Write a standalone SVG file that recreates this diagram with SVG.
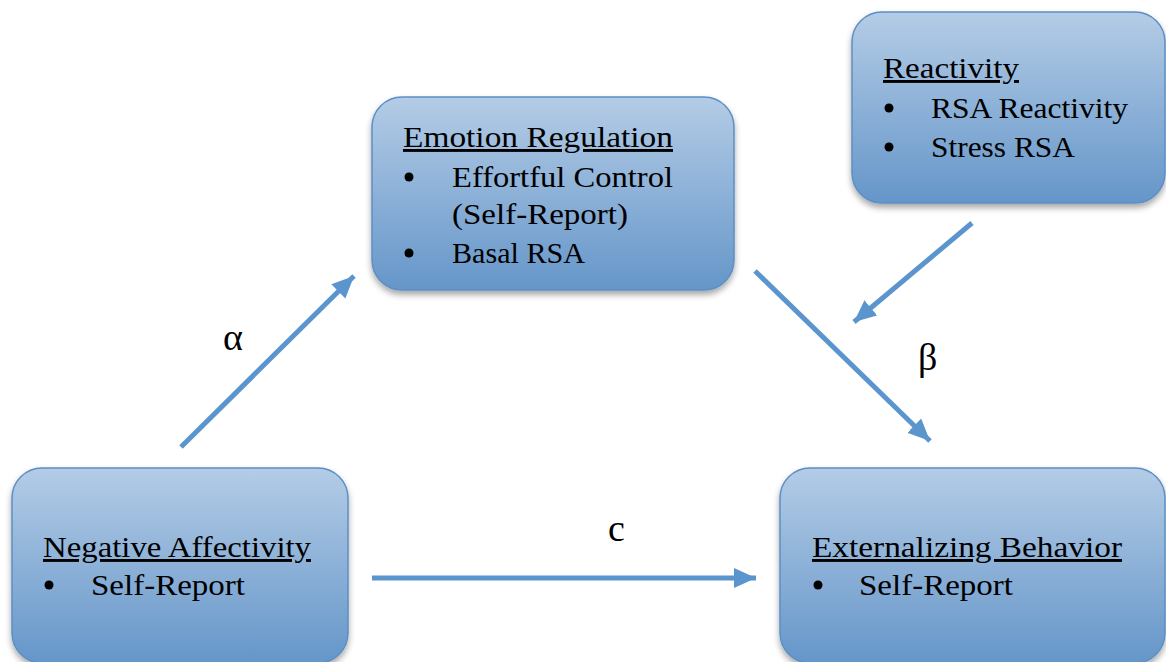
<svg xmlns="http://www.w3.org/2000/svg" width="1166" height="662" viewBox="0 0 1166 662">
<style>
.box{fill:url(#g);stroke:#5b8fc6;stroke-width:1.5;filter:url(#sh)}
.t{font-family:"Liberation Serif","Times New Roman",serif;font-size:29px;fill:#000}
.u{text-decoration:underline}
.b{fill:#000}
.gk{font-family:"Liberation Serif","Times New Roman",serif;font-size:38px;fill:#000}
.c{stroke:#5b95cd;stroke-width:5;fill:none;marker-end:url(#ah)}
</style>
<defs>
<linearGradient id="g" x1="0" y1="0" x2="0" y2="1">
<stop offset="0" stop-color="#b4cce6"/>
<stop offset="1" stop-color="#6596c9"/>
</linearGradient>
<filter id="sh" x="-10%" y="-10%" width="120%" height="130%">
<feDropShadow dx="0" dy="4" stdDeviation="3" flood-color="#000" flood-opacity="0.35"/>
</filter>
<marker id="ah" markerUnits="userSpaceOnUse" markerWidth="24" markerHeight="22" refX="22" refY="10" orient="auto">
<path d="M0,0 L22,10 L0,20 Z" fill="#5b95cd"/>
</marker>
</defs>
<g id="connectors">
<line class="c" x1="181" y1="447" x2="354" y2="276"/>
<line class="c" x1="755" y1="271" x2="930" y2="441"/>
<line class="c" x1="972" y1="223" x2="854" y2="322"/>
<line class="c" x1="372" y1="578" x2="756" y2="578"/>
<text class="gk" x="223" y="350">α</text>
<text class="gk" x="918" y="370">β</text>
<text class="gk" x="608" y="541">c</text>
</g>
<g id="emotion-regulation">
<rect class="box" x="372" y="97" width="362" height="193" rx="30"/>
<text class="t u" x="403" y="147" textLength="270" lengthAdjust="spacingAndGlyphs">Emotion Regulation</text>
<circle class="b" cx="409" cy="177" r="4.5"/>
<text class="t" x="452" y="187" textLength="221" lengthAdjust="spacingAndGlyphs">Effortful Control</text>
<text class="t" x="452" y="224" textLength="176" lengthAdjust="spacingAndGlyphs">(Self-Report)</text>
<circle class="b" cx="409" cy="253" r="4.5"/>
<text class="t" x="452" y="263" textLength="133" lengthAdjust="spacingAndGlyphs">Basal RSA</text>
</g>
<g id="reactivity">
<rect class="box" x="852" y="12" width="313" height="191" rx="30"/>
<text class="t u" x="883" y="78" textLength="136" lengthAdjust="spacingAndGlyphs">Reactivity</text>
<circle class="b" cx="889" cy="108" r="4.5"/>
<text class="t" x="931" y="118" textLength="197" lengthAdjust="spacingAndGlyphs">RSA Reactivity</text>
<circle class="b" cx="889" cy="147" r="4.5"/>
<text class="t" x="931" y="157" textLength="144" lengthAdjust="spacingAndGlyphs">Stress RSA</text>
</g>
<g id="negative-affectivity">
<rect class="box" x="12" y="468" width="336" height="195" rx="30"/>
<text class="t u" x="43" y="557" textLength="268" lengthAdjust="spacingAndGlyphs">Negative Affectivity</text>
<circle class="b" cx="49" cy="585" r="4.5"/>
<text class="t" x="91" y="595" textLength="154" lengthAdjust="spacingAndGlyphs">Self-Report</text>
</g>
<g id="externalizing-behavior">
<rect class="box" x="780" y="468" width="385" height="195" rx="30"/>
<text class="t u" x="812" y="557" textLength="310" lengthAdjust="spacingAndGlyphs">Externalizing Behavior</text>
<circle class="b" cx="818" cy="585" r="4.5"/>
<text class="t" x="859" y="595" textLength="154" lengthAdjust="spacingAndGlyphs">Self-Report</text>
</g>
</svg>
